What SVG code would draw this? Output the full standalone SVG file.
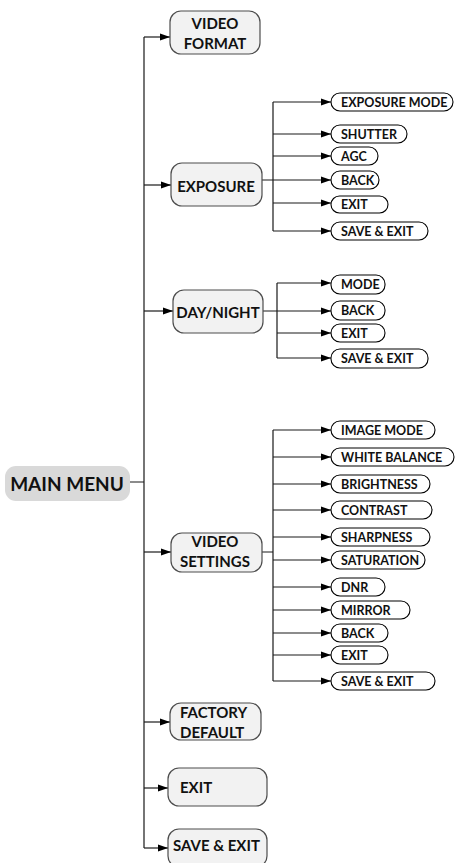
<svg xmlns="http://www.w3.org/2000/svg" width="457" height="863" viewBox="0 0 457 863">
<style>
.m{fill:#f2f2f2;stroke:#4d4d4d;stroke-width:1.2}
.s{fill:#fff;stroke:#000;stroke-width:1.1}
.c{fill:none;stroke:#1a1a1a;stroke-width:1.2}
.a{fill:none;stroke:#1a1a1a;stroke-width:1.2;marker-end:url(#ah)}
.t{font-family:Lato,"Liberation Sans",sans-serif;font-weight:bold;fill:#111}
.tm{font-size:15px}
.ts{font-size:12.5px}
</style>
<defs>
<marker id="ah" markerWidth="11" markerHeight="8" refX="10" refY="4" orient="auto" markerUnits="userSpaceOnUse">
<path d="M0,0.5 L10,4 L0,7.5 z" fill="#000"/>
</marker>
</defs>
<g id="connectors">
<path class="c" d="M130,482 H144 M144,37 V848"/>
<path class="a" d="M144,37 H170"/>
<path class="a" d="M144,185 H171"/>
<path class="a" d="M144,311 H173"/>
<path class="a" d="M144,552 H171"/>
<path class="a" d="M144,722 H170"/>
<path class="a" d="M144,788 H168"/>
<path class="a" d="M144,848 H168"/>
<path class="c" d="M262,180 H273 M273,102 V231"/>
<path class="a" d="M273,102 H331"/>
<path class="a" d="M273,134 H331"/>
<path class="a" d="M273,156 H331"/>
<path class="a" d="M273,180 H331"/>
<path class="a" d="M273,203 H331"/>
<path class="a" d="M273,231 H331"/>
<path class="c" d="M263,311 H277 M277,283 V358"/>
<path class="a" d="M277,283 H331"/>
<path class="a" d="M277,311 H331"/>
<path class="a" d="M277,333 H331"/>
<path class="a" d="M277,358 H331"/>
<path class="c" d="M262,552 H273 M273,430 V681"/>
<path class="a" d="M273,430 H331"/>
<path class="a" d="M273,457 H331"/>
<path class="a" d="M273,484 H331"/>
<path class="a" d="M273,510 H331"/>
<path class="a" d="M273,537 H331"/>
<path class="a" d="M273,560 H331"/>
<path class="a" d="M273,587 H331"/>
<path class="a" d="M273,610 H331"/>
<path class="a" d="M273,633 H331"/>
<path class="a" d="M273,655 H331"/>
<path class="a" d="M273,681 H331"/>
</g>
<g id="main-menu"><rect x="5" y="466" width="125" height="35" rx="11" fill="#d9d9d9"/><text class="t" x="67" y="491" font-size="19" text-anchor="middle">MAIN MENU</text></g>
<g id="video-format"><rect class="m" x="170" y="11" width="90" height="43" rx="11"/><text class="t tm" x="215" y="28.5" text-anchor="middle">VIDEO</text><text class="t tm" x="215" y="49" text-anchor="middle">FORMAT</text></g>
<g id="exposure"><rect class="m" x="171" y="163" width="91" height="43" rx="11"/><text class="t tm" x="216" y="191.5" text-anchor="middle">EXPOSURE</text></g>
<g id="day-night"><rect class="m" x="173" y="290" width="90" height="43" rx="11"/><text class="t tm" x="218" y="317.5" text-anchor="middle">DAY/NIGHT</text></g>
<g id="video-settings"><rect class="m" x="171" y="533" width="91" height="39" rx="11"/><text class="t tm" x="215" y="547" text-anchor="middle">VIDEO</text><text class="t tm" x="215" y="567" text-anchor="middle">SETTINGS</text></g>
<g id="factory-default"><rect class="m" x="170" y="703" width="91" height="37" rx="11"/><text class="t tm" x="180" y="718">FACTORY</text><text class="t tm" x="180" y="738">DEFAULT</text></g>
<g id="exit-main"><rect class="m" x="168" y="768" width="99" height="38" rx="11"/><text class="t tm" x="180" y="793">EXIT</text></g>
<g id="save-exit-main"><rect class="m" x="168" y="829" width="99" height="38" rx="11"/><text class="t tm" x="173" y="851">SAVE &amp; EXIT</text></g>
<g id="exp-mode"><rect class="s" x="331" y="93" width="122" height="18" rx="9"/><text class="t ts" x="341" y="106.5">EXPOSURE MODE</text></g>
<g id="exp-shutter"><rect class="s" x="331" y="125" width="76" height="18" rx="9"/><text class="t ts" x="341" y="138.5">SHUTTER</text></g>
<g id="exp-agc"><rect class="s" x="331" y="147" width="47" height="18" rx="9"/><text class="t ts" x="341" y="160.5">AGC</text></g>
<g id="exp-back"><rect class="s" x="331" y="171" width="48" height="18" rx="9"/><text class="t ts" x="341" y="184.5">BACK</text></g>
<g id="exp-exit"><rect class="s" x="331" y="196" width="57" height="17" rx="8.5"/><text class="t ts" x="341" y="209">EXIT</text></g>
<g id="exp-save"><rect class="s" x="331" y="222" width="97" height="18" rx="9"/><text class="t ts" x="341" y="235.5">SAVE &amp; EXIT</text></g>
<g id="dn-mode"><rect class="s" x="331" y="275" width="54" height="19" rx="9"/><text class="t ts" x="341" y="289">MODE</text></g>
<g id="dn-back"><rect class="s" x="331" y="301" width="54" height="19" rx="9"/><text class="t ts" x="341" y="315">BACK</text></g>
<g id="dn-exit"><rect class="s" x="331" y="324" width="54" height="18" rx="9"/><text class="t ts" x="341" y="337.5">EXIT</text></g>
<g id="dn-save"><rect class="s" x="331" y="349" width="97" height="19" rx="9"/><text class="t ts" x="341" y="363">SAVE &amp; EXIT</text></g>
<g id="vs-image-mode"><rect class="s" x="331" y="421" width="104" height="18" rx="9"/><text class="t ts" x="341" y="434.5">IMAGE MODE</text></g>
<g id="vs-white-balance"><rect class="s" x="331" y="448" width="123" height="18" rx="9"/><text class="t ts" x="341" y="461.5">WHITE BALANCE</text></g>
<g id="vs-brightness"><rect class="s" x="331" y="475" width="99" height="18" rx="9"/><text class="t ts" x="341" y="488.5">BRIGHTNESS</text></g>
<g id="vs-contrast"><rect class="s" x="331" y="501" width="101" height="18" rx="9"/><text class="t ts" x="341" y="514.5">CONTRAST</text></g>
<g id="vs-sharpness"><rect class="s" x="331" y="528" width="99" height="18" rx="9"/><text class="t ts" x="341" y="541.5">SHARPNESS</text></g>
<g id="vs-saturation"><rect class="s" x="331" y="551" width="94" height="18" rx="9"/><text class="t ts" x="341" y="564.5">SATURATION</text></g>
<g id="vs-dnr"><rect class="s" x="331" y="578" width="54" height="18" rx="9"/><text class="t ts" x="341" y="591.5">DNR</text></g>
<g id="vs-mirror"><rect class="s" x="331" y="601" width="79" height="18" rx="9"/><text class="t ts" x="341" y="614.5">MIRROR</text></g>
<g id="vs-back"><rect class="s" x="331" y="624" width="57" height="18" rx="9"/><text class="t ts" x="341" y="637.5">BACK</text></g>
<g id="vs-exit"><rect class="s" x="331" y="646" width="57" height="18" rx="9"/><text class="t ts" x="341" y="659.5">EXIT</text></g>
<g id="vs-save"><rect class="s" x="331" y="672" width="104" height="18" rx="9"/><text class="t ts" x="341" y="685.5">SAVE &amp; EXIT</text></g>
</svg>
